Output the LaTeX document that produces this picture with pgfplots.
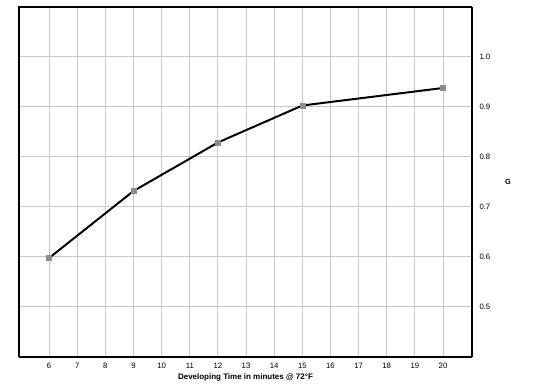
\documentclass[border=0pt]{standalone}
\usepackage{fontspec}
\setmainfont{Liberation Sans}
\usepackage{pgfplots}
\pgfplotsset{compat=1.18}
\definecolor{gridgray}{RGB}{200,200,200}
\definecolor{markgray}{RGB}{140,140,140}
\begin{document}
\begin{tikzpicture}
\begin{axis}[
  scale only axis,
  width=453bp, height=350bp,
  xmin=4.93, xmax=21.03,
  ymin=0.4, ymax=1.1,
  xtick={6,...,20},
  ytick={0.5,0.6,0.7,0.8,0.9,1.0},
  yticklabel style={/pgf/number format/fixed,/pgf/number format/fixed zerofill,/pgf/number format/precision=1},
  /pgf/number format/assume math mode=true,
  axis y line*=right,
  axis x line*=bottom,
  axis line style={line width=1.3pt},
  major tick length=0pt,
  grid=major,
  major grid style={gridgray, line width=1pt},
  tick label style={font=\fontsize{7.8}{9}\selectfont},
  xticklabel style={yshift=-3pt},
  yticklabel style={xshift=4pt},
  xlabel={\textbf{Developing Time in minutes @ 72°F}},
  xlabel style={font=\fontsize{8}{9}\selectfont, yshift=2pt},
  clip=false,
]
\draw[line width=1.3pt] (rel axis cs:0,0) -- (rel axis cs:0,1) -- (rel axis cs:1,1);
\node[font=\fontsize{7.5}{8}\selectfont\bfseries] at (rel axis cs:1,0.5) [xshift=36bp] {G};
\addplot[black, line width=2pt, mark=square*, mark size=2.6pt,
  mark options={fill=markgray, draw=markgray, line width=0.4pt}]
  coordinates {(6,0.598) (9,0.732) (12,0.829) (15,0.903) (20,0.938)};
\end{axis}
\path (current axis.south west) ++(-19bp,-32bp) coordinate (bl);
\path (current axis.north east) ++(62bp,7bp) coordinate (tr);
\useasboundingbox (bl) rectangle (tr);
\end{tikzpicture}
\end{document}
